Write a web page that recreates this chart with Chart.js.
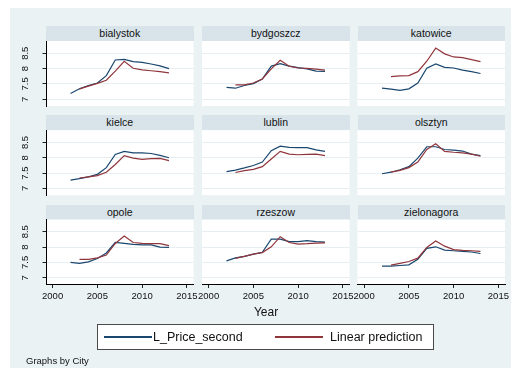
<!DOCTYPE html>
<html>
<head>
<meta charset="utf-8">
<script src="https://cdn.jsdelivr.net/npm/chart.js@4.4.1/dist/chart.umd.min.js"></script>
<style>
  html, body { margin: 0; padding: 0; background: #ffffff; }
  body { width: 511px; height: 378px; position: relative; overflow: hidden;
         font-family: "Liberation Sans", Arial, sans-serif; color: #111; }
  #graph { position: absolute; left: 10px; top: 8px; width: 501px; height: 360px; background: #eaf2f3; }
  .strip { position: absolute; height: 15px; background: #d8e4ea; font-size: 10.5px;
           line-height: 15px; text-align: center; color: #111; white-space: nowrap; }
  canvas { position: absolute; }
  .txt { position: absolute; white-space: nowrap; }
  #legend { position: absolute; left: 97px; top: 324px; width: 337px; height: 26px;
            box-sizing: border-box; border: 1px solid #4a4a4a; background: #fff; }
  .swatch { position: absolute; height: 2px; }
</style>
</head>
<body>
<div id="graph"></div>
<div id="panels"></div>
<div class="txt" style="left:226px;top:304px;width:80px;text-align:center;font-size:12px;line-height:17px;">Year</div>
<div id="legend"></div>
<div class="swatch" style="left:104px;top:336px;width:48px;background:#1a476f;"></div>
<div class="txt" style="left:153px;top:329px;font-size:12.5px;line-height:16px;">L_Price_second</div>
<div class="swatch" style="left:275px;top:336px;width:48px;background:#90353b;"></div>
<div class="txt" style="left:330px;top:329px;font-size:12.5px;line-height:16px;">Linear prediction</div>
<div class="txt" style="left:26px;top:355px;font-size:9.5px;line-height:12px;">Graphs by City</div>

<script>
// Years observed in every city
const years = [2002, 2003, 2004, 2005, 2006, 2007, 2008, 2009, 2010, 2011, 2012, 2013];

// Panel order (row by row)
const cities = ["bialystok", "bydgoszcz", "katowice", "kielce", "lublin", "olsztyn", "opole", "rzeszow", "zielonagora"];

// Log price per city (L_Price_second)
const bialystokPrice   = [7.19, 7.34, 7.45, 7.53, 7.77, 8.28, 8.30, 8.23, 8.20, 8.15, 8.09, 8.00];
const bydgoszczPrice   = [7.39, 7.36, 7.45, 7.51, 7.66, 8.08, 8.16, 8.08, 8.03, 7.99, 7.92, 7.91];
const katowicePrice    = [7.36, 7.33, 7.29, 7.34, 7.53, 8.01, 8.15, 8.04, 8.02, 7.95, 7.90, 7.84];
const kielcePrice      = [7.27, 7.32, 7.38, 7.46, 7.68, 8.11, 8.21, 8.16, 8.16, 8.14, 8.08, 8.00];
const lublinPrice      = [7.55, 7.60, 7.67, 7.75, 7.86, 8.23, 8.38, 8.34, 8.33, 8.33, 8.26, 8.21];
const olsztynPrice     = [7.48, 7.53, 7.61, 7.71, 7.99, 8.36, 8.36, 8.27, 8.25, 8.22, 8.12, 8.07];
const opolePrice       = [7.50, 7.47, 7.52, 7.63, 7.81, 8.15, 8.12, 8.09, 8.07, 8.07, 8.00, 7.99];
const rzeszowPrice     = [7.55, 7.65, 7.70, 7.77, 7.83, 8.26, 8.26, 8.18, 8.18, 8.21, 8.18, 8.16];
const zielonagoraPrice = [7.38, 7.38, 7.40, 7.42, 7.60, 7.96, 8.01, 7.90, 7.88, 7.86, 7.84, 7.79];

// Fitted values (Linear prediction); no prediction for the first year
const bialystokPred   = [null, 7.34, 7.43, 7.52, 7.62, 7.92, 8.24, 8.01, 7.96, 7.93, 7.90, 7.86];
const bydgoszczPred   = [null, 7.47, 7.47, 7.53, 7.66, 7.99, 8.27, 8.08, 8.02, 8.01, 7.98, 7.95];
const katowicePred    = [null, 7.74, 7.76, 7.77, 7.90, 8.24, 8.67, 8.48, 8.38, 8.36, 8.29, 8.23];
const kielcePred      = [null, 7.34, 7.38, 7.42, 7.53, 7.78, 8.07, 7.99, 7.95, 7.97, 7.98, 7.91];
const lublinPred      = [null, 7.52, 7.58, 7.62, 7.71, 7.96, 8.21, 8.12, 8.10, 8.11, 8.12, 8.07];
const olsztynPred     = [null, 7.53, 7.59, 7.68, 7.86, 8.27, 8.46, 8.21, 8.18, 8.16, 8.12, 8.05];
const opolePred       = [null, 7.60, 7.60, 7.65, 7.74, 8.12, 8.36, 8.15, 8.12, 8.11, 8.11, 8.05];
const rzeszowPred     = [null, 7.63, 7.70, 7.77, 7.82, 8.01, 8.34, 8.15, 8.10, 8.11, 8.13, 8.14];
const zielonagoraPred = [null, 7.41, 7.47, 7.53, 7.64, 7.99, 8.20, 8.03, 7.92, 7.89, 7.88, 7.86];

// Axis ticks
const xTicks = [2000, 2005, 2010, 2015];
const yTicks = [7, 7.5, 8, 8.5];

const priceSeries = [bialystokPrice, bydgoszczPrice, katowicePrice, kielcePrice, lublinPrice,
                     olsztynPrice, opolePrice, rzeszowPrice, zielonagoraPrice];
const predSeries  = [bialystokPred, bydgoszczPred, katowicePred, kielcePred, lublinPred,
                     olsztynPred, opolePred, rzeszowPred, zielonagoraPred];

// Panel geometry
const colLeft = [46, 202, 357.5];
const rowTop  = [41, 130.2, 219.5];
const plotW = 147.5, plotH = 65;
const xMin = 1999.26, xMax = 2015.74;
const yMin = 6.78, yMax = 8.90;
const FONT = '"Liberation Sans", Arial, sans-serif';

// White plot region behind grid and lines
const plotBackground = {
  id: 'plotBackground',
  beforeDraw(chart) {
    const { ctx, chartArea: a } = chart;
    ctx.save();
    ctx.fillStyle = '#ffffff';
    ctx.fillRect(a.left, a.top, a.right - a.left, a.bottom - a.top);
    ctx.restore();
  }
};

// Vertical (bottom-to-top) y tick labels placed from the y scale
const yTickLabels = {
  id: 'yTickLabels',
  afterDraw(chart, args, opts) {
    if (!opts.show) return;
    const { ctx } = chart;
    const s = chart.scales.y;
    const x = chart.chartArea.left - 21;
    ctx.save();
    ctx.font = '9.5px ' + FONT;
    ctx.fillStyle = '#111';
    ctx.textAlign = 'center';
    ctx.textBaseline = 'middle';
    s.ticks.forEach(t => {
      const py = s.getPixelForValue(t.value);
      ctx.save();
      ctx.translate(x, py);
      ctx.rotate(-Math.PI / 2);
      ctx.fillText(String(t.value), 0, 0);
      ctx.restore();
    });
    ctx.restore();
  }
};

const toPoints = vals => years
  .map((yr, k) => (vals[k] == null ? null : { x: yr, y: vals[k] }))
  .filter(p => p !== null);

const holder = document.getElementById('panels');

cities.forEach((city, i) => {
  const r = Math.floor(i / 3), c = i % 3;
  const L = colLeft[c], T = rowTop[r];
  const bottomRow = r === 2, leftCol = c === 0;

  const strip = document.createElement('div');
  strip.className = 'strip';
  strip.style.left = L + 'px';
  strip.style.top = (T - 15) + 'px';
  strip.style.width = plotW + 'px';
  strip.textContent = city;
  holder.appendChild(strip);

  const cx = Math.floor(L) - 46, cy = Math.floor(T) - 10;
  const cw = 46 + 150 + 20;
  const xAxisH = bottomRow ? 30 : 0;
  const ch = 10 + 66 + (bottomRow ? 30 : 10);
  const canvas = document.createElement('canvas');
  canvas.width = cw; canvas.height = ch;
  canvas.style.left = cx + 'px'; canvas.style.top = cy + 'px';
  canvas.style.width = cw + 'px'; canvas.style.height = ch + 'px';
  holder.appendChild(canvas);

  const padLeft = L - (cx + 46);
  const padTop = T - cy;
  const padRight = cw - (L - cx) - plotW;
  const padBottom = ch - xAxisH - padTop - plotH;

  new Chart(canvas, {
    type: 'line',
    data: {
      datasets: [
        { label: 'L_Price_second', data: toPoints(priceSeries[i]), borderColor: '#1a476f',
          borderWidth: 1.2, pointRadius: 0, fill: false, tension: 0, order: 1 },
        { label: 'Linear prediction', data: toPoints(predSeries[i]), borderColor: '#90353b',
          borderWidth: 1.2, pointRadius: 0, fill: false, tension: 0, order: 0 }
      ]
    },
    options: {
      responsive: false,
      animation: false,
      devicePixelRatio: 1,
      layout: { padding: { left: padLeft, top: padTop, right: padRight, bottom: padBottom } },
      plugins: {
        legend: { display: false },
        tooltip: { enabled: false },
        yTickLabels: { show: leftCol }
      },
      events: [],
      scales: {
        x: {
          type: 'linear', min: xMin, max: xMax, display: bottomRow,
          afterBuildTicks: s => { s.ticks = xTicks.map(v => ({ value: v })); },
          afterFit: s => { s.height = xAxisH; },
          border: { display: true, color: '#000', width: 1 },
          grid: { drawOnChartArea: false, drawTicks: true, tickLength: 3.5, tickColor: '#222', tickWidth: 1 },
          ticks: { padding: 3, minRotation: 0, maxRotation: 0, autoSkip: false, color: '#111',
                   font: { family: FONT, size: 9.5 }, callback: v => String(v) }
        },
        y: {
          type: 'linear', min: yMin, max: yMax,
          afterBuildTicks: s => { s.ticks = yTicks.map(v => ({ value: v })); },
          afterFit: s => { s.width = 46; },
          border: { display: leftCol, color: '#000', width: 1 },
          grid: { color: '#e6eef1', lineWidth: 1, drawTicks: leftCol, tickLength: 3.5,
                  tickColor: '#222', tickWidth: 1 },
          ticks: { display: false }
        }
      }
    },
    plugins: [plotBackground, yTickLabels]
  });
});
</script>
</body>
</html>
